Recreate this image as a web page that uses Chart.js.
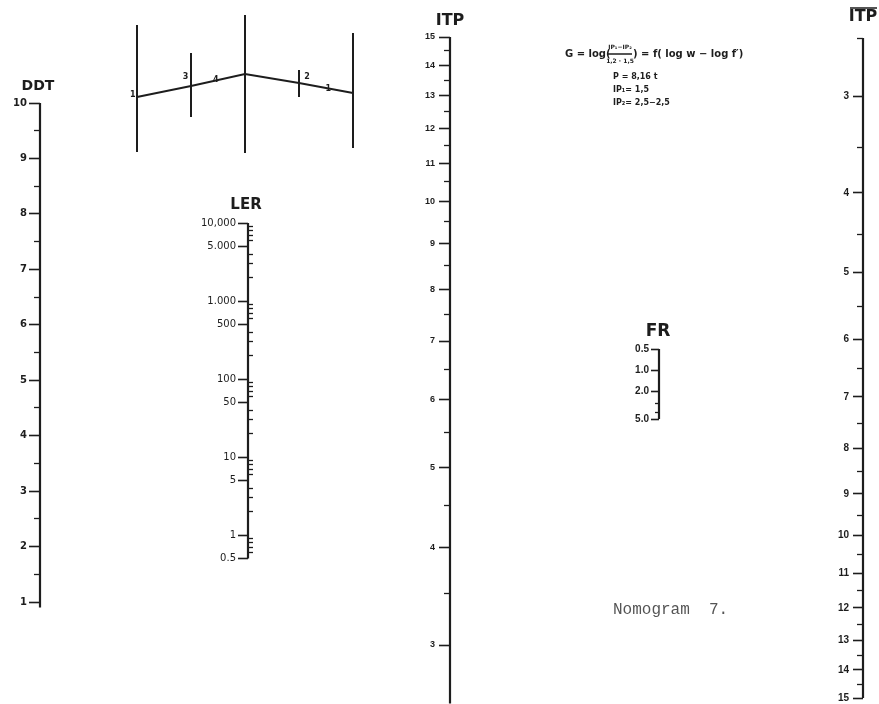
<!DOCTYPE html>
<html>
<head>
<meta charset="utf-8">
<title>Nomogram 7</title>
<script src="https://cdn.jsdelivr.net/npm/chart.js@4.4.1/dist/chart.umd.min.js"></script>
<style>
  html, body { margin: 0; background: #fff; }
  #wrap { width: 879px; height: 704px; position: relative; }
</style>
</head>
<body>
<div id="wrap"><canvas id="nomo"></canvas></div>
<script>
// --- scale values ---
const ddtTicks = [1, 2, 3, 4, 5, 6, 7, 8, 9, 10];
const ddtLabels = ['1', '2', '3', '4', '5', '6', '7', '8', '9', '10'];
const ddtMinor = [1.5, 2.5, 3.5, 4.5, 5.5, 6.5, 7.5, 8.5, 9.5];
const ddtEnds = [0.9, 10];

const lerTicks = [0.5, 1, 5, 10, 50, 100, 500, 1000, 5000, 10000];
const lerLabels = ['0.5', '1', '5', '10', '50', '100', '500', '1.000', '5.000', '10,000'];
const lerMinor = [0.6, 0.7, 0.8, 0.9, 2, 3, 4, 6, 7, 8, 9, 20, 30, 40, 60, 70, 80, 90,
  200, 300, 400, 600, 700, 800, 900, 2000, 3000, 4000, 6000, 7000, 8000, 9000];
const lerEnds = [0.5, 10000];

const itpTicks = [3, 4, 5, 6, 7, 8, 9, 10, 11, 12, 13, 14, 15];
const itpLabels = ['3', '4', '5', '6', '7', '8', '9', '10', '11', '12', '13', '14', '15'];
const itpMinor = [3.5, 4.5, 5.5, 6.5, 7.5, 8.5, 9.5, 10.5, 11.5, 12.5, 13.5, 14.5];
const itpEnds = [2.5, 15];

const frTicks = [0.5, 1, 2, 5];
const frLabels = ['0.5', '1.0', '2.0', '5.0'];
const frMinor = [3, 4];
const frEnds = [0.5, 5];

const itpBarTicks = [3, 4, 5, 6, 7, 8, 9, 10, 11, 12, 13, 14, 15];
const itpBarLabels = ['3', '4', '5', '6', '7', '8', '9', '10', '11', '12', '13', '14', '15'];
const itpBarMinor = [2.5, 3.5, 4.5, 5.5, 6.5, 7.5, 8.5, 9.5, 10.5, 11.5, 12.5, 13.5, 14.5];
const itpBarEnds = [2.5, 15];

// key diagram at the top (posts 0..4, heights in diagram units)
const postX = [0, 1, 2, 3, 4];
const postTop = [12.8, 10, 13.8, 8.3, 12];
const postBottom = [0.1, 3.6, 0, 5.6, 0.5];
const pathY = [5.6, 6.7, 7.9, 7.0, 6.0];
const pathMarks = ['1', '3', '4', '2', '1'];
const pathMarkX = [-0.08, 0.9, 1.46, 3.15, 3.54];
const pathMarkY = [5.8, 7.6, 7.3, 7.6, 6.4];

const W = 879, H = 704;
const ink = '#1d1d1d';

// where each scale sits on the page: x, and two [value, pixel] anchors
const axisLayout = {
  ddt: { x: 40, kind: 'linear', from: [10, 103], to: [1, 602], major: 11, minor: 6, pad: 2,
    font: { family: 'DejaVu Sans', size: 10, weight: 'bold' } },
  ler: { x: 248, kind: 'log', from: [10000, 223], to: [1, 535], major: 10, minor: -5, pad: 2,
    font: { family: 'DejaVu Sans', size: 10 } },
  itp: { x: 450, kind: 'log1p', from: [15, 37], to: [3, 645], major: 11, minor: 6, pad: 4,
    font: { family: 'Liberation Sans', size: 9, weight: 'bold' } },
  fr: { x: 659, kind: 'log', from: [0.5, 349], to: [5, 419], major: 8, minor: 4, pad: 2,
    font: { family: 'Liberation Sans', size: 10, weight: 'bold' } },
  itpBar: { x: 863, kind: 'log1p', from: [3, 96], to: [15, 698], major: 10, minor: 6, pad: 4,
    font: { family: 'Liberation Sans', size: 10, weight: 'bold' } }
};

const nomoScales = [
  { id: 'ddt', ticks: ddtTicks, labels: ddtLabels, minor: ddtMinor, ends: ddtEnds },
  { id: 'ler', ticks: lerTicks, labels: lerLabels, minor: lerMinor, ends: lerEnds },
  { id: 'itp', ticks: itpTicks, labels: itpLabels, minor: itpMinor, ends: itpEnds },
  { id: 'fr', ticks: frTicks, labels: frLabels, minor: frMinor, ends: frEnds },
  { id: 'itpBar', ticks: itpBarTicks, labels: itpBarLabels, minor: itpBarMinor, ends: itpBarEnds }
];

const transforms = {
  linear: (v) => v,
  log: (v) => Math.log10(v),
  log1p: (v) => Math.log10(v + 1)
};
// log1p scales are linear axes in log10(v + 1); log scales use Chart.js' logarithmic axis
const scaleValue = (kind, v) => (kind === 'log1p' ? transforms.log1p(v) : v);

function edgeValues(a, b, size) {
  const k = (b[0] - a[0]) / (b[1] - a[1]);
  return [a[0] - a[1] * k, a[0] + (size - a[1]) * k];
}

function verticalRange(cfg) {
  const f = transforms[cfg.kind];
  const [top, bottom] = edgeValues([f(cfg.from[0]), cfg.from[1]], [f(cfg.to[0]), cfg.to[1]], H);
  const back = cfg.kind === 'log' ? (u) => Math.pow(10, u) : (u) => u;
  return top > bottom
    ? { min: back(bottom), max: back(top), reverse: false }
    : { min: back(top), max: back(bottom), reverse: true };
}

const [dxMin, dxMax] = edgeValues([0, 137], [4, 353], W);
const [dyTop, dyBottom] = edgeValues([0, 153], [10, 53], H);

const scales = {
  x: { type: 'linear', min: 0, max: W, display: false },
  y: { type: 'linear', min: 0, max: H, reverse: true, display: false },
  dx: { axis: 'x', type: 'linear', min: dxMin, max: dxMax, display: false },
  dy: { axis: 'y', type: 'linear', min: dyBottom, max: dyTop, display: false }
};

const datasets = [];

nomoScales.forEach(({ id, ticks, labels, minor, ends }) => {
  const L = axisLayout[id];
  const common = {
    axis: 'y',
    type: L.kind === 'log' ? 'logarithmic' : 'linear',
    position: { x: L.x },
    bounds: 'data',
    ...verticalRange(L),
    border: { display: false },
    afterFit: (s) => { s.paddingTop = 0; s.paddingBottom = 0; }
  };
  const majorTicks = (s) => { s.ticks = ticks.map((v) => ({ value: scaleValue(L.kind, v) })); };
  // tick marks
  scales[id] = {
    ...common,
    grid: { drawOnChartArea: false, tickLength: L.major, tickWidth: 1.6, color: ink, tickColor: ink },
    ticks: { display: false },
    afterBuildTicks: majorTicks
  };
  scales[id + 'Minor'] = {
    ...common,
    grid: { drawOnChartArea: false, tickLength: L.minor, tickWidth: 1.3, color: ink, tickColor: ink },
    ticks: { display: false },
    afterBuildTicks: (s) => { s.ticks = minor.map((v) => ({ value: scaleValue(L.kind, v) })); }
  };
  // labels sit left of the tick marks
  scales[id + 'Labels'] = {
    ...common,
    position: { x: L.x - L.major - L.pad },
    grid: { display: false },
    ticks: { autoSkip: false, padding: 0, color: ink, font: L.font, callback: (v, i) => labels[i] },
    afterBuildTicks: majorTicks
  };
  datasets.push({
    data: ends.map((v) => ({ x: L.x, y: scaleValue(L.kind, v) })),
    xAxisID: 'x', yAxisID: id,
    borderColor: ink, borderWidth: 2.2, pointRadius: 0, clip: false
  });
});

postX.forEach((px, i) => {
  datasets.push({
    data: [{ x: px, y: postTop[i] }, { x: px, y: postBottom[i] }],
    xAxisID: 'dx', yAxisID: 'dy',
    borderColor: ink, borderWidth: 2, pointRadius: 0, clip: false
  });
});
datasets.push({
  data: postX.map((px, i) => ({ x: px, y: pathY[i] })),
  xAxisID: 'dx', yAxisID: 'dy',
  borderColor: ink, borderWidth: 1.8, pointRadius: 0, clip: false
});

// page texts (x, y in page pixels through the hidden x / y scales)
const notes = [
  { text: 'DDT', x: 38, y: 86, font: 'bold 14px "DejaVu Sans"' },
  { text: 'LER', x: 246, y: 205, font: 'bold 15px "DejaVu Sans"' },
  { text: 'ITP', x: 450, y: 21, font: 'bold 16px "DejaVu Sans"' },
  { text: 'FR', x: 658, y: 332, font: 'bold 17px "DejaVu Sans"' },
  { text: 'ITP', x: 863, y: 17, font: 'bold 16px "DejaVu Sans"' },
  { text: 'G = log(', x: 565, y: 54, align: 'left', font: 'bold 10px "DejaVu Sans"' },
  { text: 'IP\u2081\u2212IP\u2082', x: 620, y: 47, font: 'bold 6px "DejaVu Sans"' },
  { text: '1,2 \u00b7 1,5', x: 620, y: 61, font: 'bold 6px "DejaVu Sans"' },
  { text: ') = f( log w \u2212 log f\u2032)', x: 633, y: 54, align: 'left', font: 'bold 10px "DejaVu Sans"' },
  { text: 'P = 8,16 t', x: 613, y: 77, align: 'left', font: 'bold 8px "DejaVu Sans"' },
  { text: 'IP\u2081= 1,5', x: 613, y: 90, align: 'left', font: 'bold 8px "DejaVu Sans"' },
  { text: 'IP\u2082= 2,5\u22122,5', x: 613, y: 103, align: 'left', font: 'bold 8px "DejaVu Sans"' },
  { text: 'Nomogram  7.', x: 613, y: 610, align: 'left', font: '16px "Liberation Mono"', color: '#555' }
];
const rules = [
  { x1: 850, x2: 877, y: 8 },
  { x1: 608, x2: 632, y: 54 }
];

const notesPlugin = {
  id: 'notes',
  afterDraw(chart) {
    const { ctx, scales: s } = chart;
    ctx.save();
    ctx.textBaseline = 'middle';
    notes.forEach((n) => {
      ctx.font = n.font;
      ctx.fillStyle = n.color || ink;
      ctx.textAlign = n.align || 'center';
      ctx.fillText(n.text, s.x.getPixelForValue(n.x), s.y.getPixelForValue(n.y));
    });
    ctx.font = 'bold 8px "DejaVu Sans"';
    ctx.fillStyle = ink;
    ctx.textAlign = 'center';
    pathMarks.forEach((m, i) => {
      ctx.fillText(m, s.dx.getPixelForValue(pathMarkX[i]), s.dy.getPixelForValue(pathMarkY[i]));
    });
    ctx.strokeStyle = ink;
    ctx.lineWidth = 1.5;
    rules.forEach((r) => {
      const y = s.y.getPixelForValue(r.y);
      ctx.beginPath();
      ctx.moveTo(s.x.getPixelForValue(r.x1), y);
      ctx.lineTo(s.x.getPixelForValue(r.x2), y);
      ctx.stroke();
    });
    ctx.restore();
  }
};

new Chart(document.getElementById('nomo'), {
  type: 'line',
  data: { datasets },
  options: {
    responsive: true,
    maintainAspectRatio: false,
    animation: false,
    events: [],
    layout: { padding: 0 },
    plugins: { legend: { display: false }, tooltip: { enabled: false } },
    scales
  },
  plugins: [notesPlugin]
});
</script>
</body>
</html>
